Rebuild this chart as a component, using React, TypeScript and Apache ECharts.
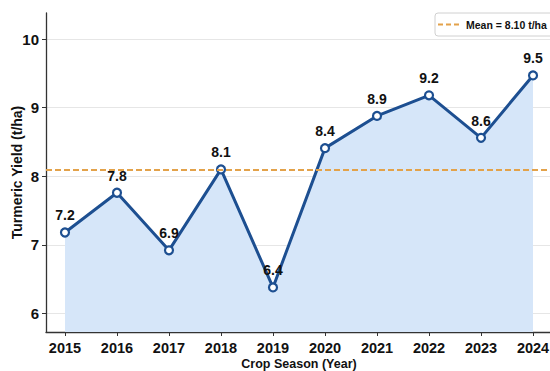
import React, { useEffect, useRef } from "react";
import * as echarts from "echarts";

const years = [2015, 2016, 2017, 2018, 2019, 2020, 2021, 2022, 2023, 2024];
const yields = [7.18, 7.76, 6.92, 8.1, 6.38, 8.41, 8.88, 9.18, 8.56, 9.47];
const meanYield = 8.1;
const yTicks = [6, 7, 8, 9, 10];
const xTicks = years;
const yLabelText = "Turmeric Yield (t/ha)";
const xLabelText = "Crop Season (Year)";

const FONT = "'Liberation Sans', Arial, sans-serif";

export default function App() {
  const ref = useRef<HTMLDivElement>(null);
  useEffect(() => {
    if (!ref.current) return;
    const chart = echarts.init(ref.current, null, { renderer: "svg" });
    const legendText = `Mean = ${meanYield.toFixed(2)} t/ha`;
    chart.setOption({
      animation: false,
      backgroundColor: "#ffffff",
      textStyle: { fontFamily: FONT },
      grid: {
        left: 46,
        top: 13,
        right: -2,
        bottom: 39,
        containLabel: false,
        outerBoundsMode: "none",
      },
      xAxis: {
        type: "value",
        min: 2014.635,
        max: 2024.365,
        minInterval: 1,
        maxInterval: 1,
        name: xLabelText,
        nameLocation: "middle",
        nameGap: 25,
        nameMoveOverlap: false,
        nameTextStyle: { fontFamily: FONT, fontWeight: "bold", fontSize: 12.5, color: "#111" },
        axisLine: { onZero: false, lineStyle: { color: "#333", width: 1.3 } },
        axisTick: { show: true, length: 4, customValues: xTicks, lineStyle: { color: "#333" } },
        axisLabel: {
          customValues: xTicks,
          margin: 8,
          fontFamily: FONT,
          fontWeight: "bold",
          fontSize: 14.5,
          color: "#111",
          formatter: (v: number) => String(Math.round(v)),
        },
        splitLine: { show: false },
      },
      yAxis: {
        type: "value",
        min: 5.73,
        max: 10.38,
        minInterval: 1,
        maxInterval: 1,
        name: yLabelText,
        nameLocation: "middle",
        nameGap: 22,
        nameMoveOverlap: false,
        nameTextStyle: { fontFamily: FONT, fontWeight: "bold", fontSize: 14, color: "#111" },
        axisLine: { show: true, onZero: false, lineStyle: { color: "#333", width: 1.3 } },
        axisTick: { show: true, length: 4, customValues: yTicks, lineStyle: { color: "#333" } },
        axisLabel: {
          customValues: yTicks,
          margin: 7,
          fontFamily: FONT,
          fontWeight: "bold",
          fontSize: 15,
          color: "#111",
        },
        splitLine: {
          show: true,
          lineStyle: { color: "#e6e6e6", width: 1 },
        },
      },
      series: [
        {
          type: "line",
          data: years.map((y, i) => [y, yields[i]]),
          symbol: "circle",
          symbolSize: 8,
          lineStyle: { color: "#1d4f91", width: 3 },
          itemStyle: { color: "#ffffff", borderColor: "#1d4f91", borderWidth: 2.2 },
          areaStyle: { color: "#d6e6f9", origin: "start", opacity: 1 },
          label: {
            show: true,
            position: "top",
            distance: 5,
            fontFamily: FONT,
            fontWeight: "bold",
            fontSize: 14,
            color: "#111",
            formatter: (p: any) => p.value[1].toFixed(1),
          },
          markLine: {
            silent: true,
            symbol: "none",
            label: { show: false },
            lineStyle: { color: "#e3a24a", width: 2, type: [6, 3] },
            data: [{ yAxis: meanYield }],
          },
          z: 3,
        },
      ],
      graphic: [
        {
          type: "rect",
          shape: { x: 435, y: 13, width: 130, height: 23, r: 3 },
          style: { fill: "#ffffff", stroke: "#d0d0d0", lineWidth: 1 },
          z: 10,
        },
        {
          type: "line",
          shape: { x1: 438, y1: 24.5, x2: 459, y2: 24.5 },
          style: { stroke: "#e3a24a", lineWidth: 2, lineDash: [5, 3] },
          z: 11,
        },
        {
          type: "text",
          x: 466,
          y: 24.5,
          style: {
            text: legendText,
            fontFamily: FONT,
            fontWeight: "bold",
            fontSize: 10.5,
            fill: "#111",
            verticalAlign: "middle",
            align: "left",
          },
          z: 11,
        },
      ],
    });
    return () => chart.dispose();
  }, []);
  return (
    <div
      ref={ref}
      style={{ position: "fixed", left: 0, top: 0, width: 550, height: 371, background: "#fff" }}
    />
  );
}
